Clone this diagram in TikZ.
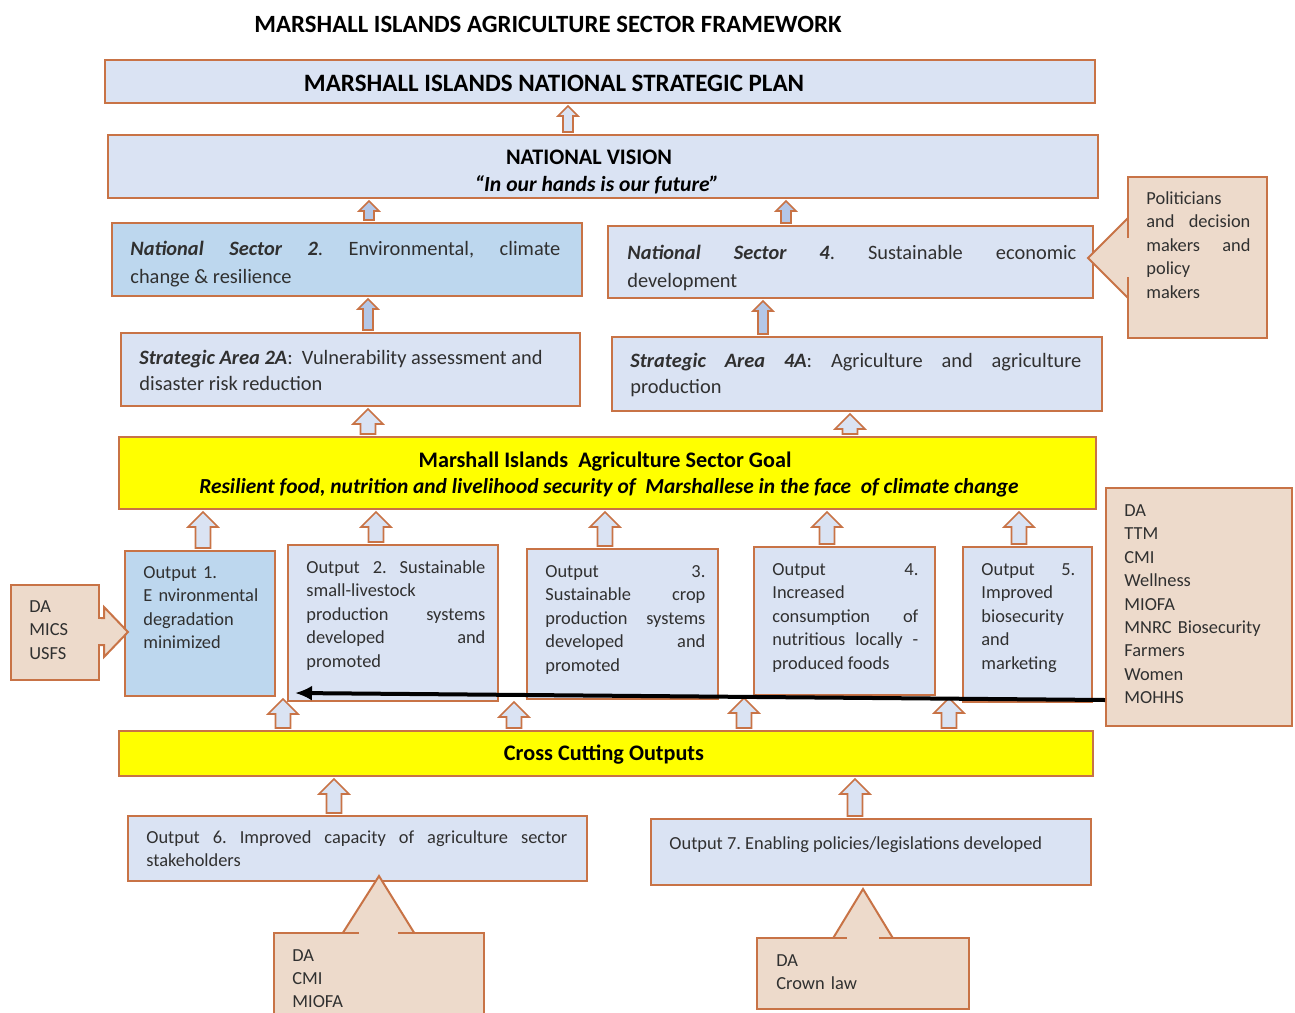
\documentclass[tikz,border=0pt]{standalone}
\usepackage{fontspec}
\setmainfont{Carlito}
\usetikzlibrary{arrows.meta,fit,calc}

\definecolor{edgeor}{HTML}{C87346}
\definecolor{paleblue}{HTML}{DAE3F3}
\definecolor{midblue}{HTML}{BDD7EE}
\definecolor{arrowblue}{HTML}{B4C7E7}
\definecolor{peach}{HTML}{EDDACB}
\definecolor{goalyellow}{HTML}{FFFF00}
\definecolor{inkgrey}{HTML}{303030}

\tolerance=10000
\hbadness=10000
\hyphenpenalty=10000
\frenchspacing

\newcommand{\smalltxt}{\fontsize{9.2}{11.7}\selectfont}

% hollow up arrow from one box to the box above it
\newcommand{\blockup}[6]{%
  \draw[arrowline, fill=#6] let \p1=(#1,0 |- #2.north), \p2=(#1,0 |- #3.south) in
    (\x1-#5,\y1+1pt) -- (\x1-#5,\y2-1pt-#4) -- (\x1-#4,\y2-1pt-#4) -- (\x1,\y2-1pt)
    -- (\x1+#4,\y2-1pt-#4) -- (\x1+#5,\y2-1pt-#4) -- (\x1+#5,\y1+1pt) -- cycle;}
\newcommand{\smallup}[4][arrowblue]{\blockup{#2}{#3}{#4}{5pt}{2.5pt}{#1}}
\newcommand{\bigup}[3]{\blockup{#1}{#2}{#3}{7.5pt}{3.75pt}{paleblue}}

\tikzset{
  frame/.style={draw=edgeor, line width=1pt, inner sep=0pt},
  palebox/.style={frame, fill=paleblue},
  bluebox/.style={frame, fill=midblue},
  goalbox/.style={frame, fill=goalyellow},
  peachbox/.style={frame, fill=peach},
  callshape/.style={draw=edgeor, line width=1pt, fill=peach},
  arrowline/.style={draw=edgeor, line width=0.8pt},
  para/.style={inner sep=0pt, anchor=base west, text=inkgrey, font=\smalltxt},
  justpara/.style={para, align=justify, text width=#1},
  listpara/.style={para, align=left, text width=#1},
  head/.style={inner sep=0pt, text=black, font=\bfseries\fontsize{11.1}{13}\selectfont},
  pointer/.style={line width=2pt, -{Latex[length=8.5pt,width=7.5pt]}},
}

\begin{document}
\begin{tikzpicture}[x=0.5pt,y=-0.5pt]
  \useasboundingbox (0,0) rectangle (1295,1012);

  \node[head, font=\bfseries\fontsize{12.4}{15}\selectfont] (title) at (548,24)
    {MARSHALL ISLANDS AGRICULTURE SECTOR FRAMEWORK};

  % national level
  \node[palebox, fit={(105,60) (1095,103)}] (nsp) {};
  \node[head, font=\bfseries\fontsize{12.5}{15}\selectfont] (nsptext) at (554,83)
    {MARSHALL ISLANDS NATIONAL STRATEGIC PLAN};
  \node[palebox, fit={(108,135) (1098,198)}] (nvis) {};
  \node[head] (nvistext) at (589,157) {NATIONAL VISION};
  \node[head, font=\bfseries\itshape\fontsize{10.8}{13}\selectfont] (nvisquote) at (597,184.5)
    {“In our hands is our future”};

  % sectors
  \node[bluebox, fit={(112,223) (582,296)}] (ns2) {};
  \node[justpara=215pt, font=\fontsize{10.2}{14}\selectfont] (ns2text) at (130,255.5)
    {\textbf{\textit{National Sector 2}}. Environmental, climate\linebreak change \& resilience};
  \node[palebox, fit={(608,226) (1093,298)}] (ns4) {};
  \node[justpara=224.5pt, font=\fontsize{10.2}{14}\selectfont] (ns4text) at (627,259.5)
    {\textbf{\textit{National Sector 4}}. Sustainable economic\linebreak development};

  % politicians callout
  \filldraw[callshape] (1088,258) -- (1130,216) -- (1130,300) -- cycle;
  \node[peachbox, fit={(1128,177) (1267,338)}] (polit) {};
  \fill[peach] (1126.5,238) rectangle (1129.5,277);
  \node[justpara=52pt] (polittext) at (1146,204.5)
    {Politicians\linebreak and decision\linebreak makers and\linebreak policy\linebreak makers};

  % strategic areas
  \node[palebox, fit={(121,333) (580,406)}] (sa2a) {};
  \node[justpara=211pt, font=\fontsize{10.2}{13}\selectfont] (sa2atext) at (139,364.5)
    {\textbf{\textit{Strategic Area 2A}}:\ \ Vulnerability assessment and\\disaster risk reduction};
  \node[palebox, fit={(612,337) (1102,411)}] (sa4a) {};
  \node[justpara=225.5pt, font=\fontsize{10.2}{13}\selectfont] (sa4atext) at (630,367.5)
    {\textbf{\textit{Strategic Area 4A}}: Agriculture and agriculture\linebreak production};

  % goal
  \node[goalbox, fit={(119,437) (1096,509)}] (goal) {};
  \node[head] (goaltitle) at (605,461.5) {Marshall Islands\ \ Agriculture Sector Goal};
  \node[head, font=\bfseries\itshape\fontsize{10.7}{13}\selectfont] (goalsub) at (609,487.5)
    {Resilient food, nutrition and livelihood security of\ \ Marshallese in the face\ \ of climate change};

  % outputs
  \node[bluebox, fit={(125,551) (275,696)}] (o1) {};
  \node[listpara=60pt] (o1text) at (143,578.5)
    {Output 1.\\E nvironmental\\degradation\\minimized};
  \node[palebox, fit={(288,545) (498,701)}] (o2) {};
  \node[justpara=89.5pt] (o2text) at (306,573.5)
    {Output 2. Sustainable\linebreak small-livestock\linebreak production systems\linebreak developed and\linebreak promoted};
  \node[palebox, fit={(527,549) (718,699)}] (o3) {};
  \node[justpara=80pt] (o3text) at (545,577.5)
    {Output 3.\linebreak Sustainable crop\linebreak production systems\linebreak developed and\linebreak promoted};
  \node[palebox, fit={(754,547) (935,695)}] (o4) {};
  \node[justpara=73pt] (o4text) at (772,575.5)
    {Output 4.\linebreak Increased\linebreak consumption of\linebreak nutritious locally -\linebreak produced foods};
  \node[palebox, fit={(963,547) (1092,702)}] (o5) {};
  \node[justpara=47pt] (o5text) at (981,575.5)
    {Output 5.\linebreak Improved\linebreak biosecurity\linebreak and\linebreak marketing};

  % left callout
  \filldraw[callshape] (97,618) -- (104,618) -- (104,607) -- (128,632) -- (104,657)
    -- (104,645) -- (97,645) -- cycle;
  \node[peachbox, fit={(11,585) (99,680)}] (lcall) {};
  \fill[peach] (97.5,619) rectangle (100.5,644);
  \node[listpara=35pt] (lcalltext) at (29,612.5) {DA\\MICS\\USFS};

  % right callout
  \node[peachbox, fit={(1106,488) (1292,726)}] (rcall) {};
  \node[listpara=80pt] (rcalltext) at (1124,516.5)
    {DA\\TTM\\CMI\\Wellness\\MIOFA\\MNRC Biosecurity\\Farmers\\Women\\MOHHS};

  % cross cutting
  \node[goalbox, fit={(119,731) (1093,776)}] (cc) {};
  \node[head] (cctext) at (604,754.5) {Cross Cutting Outputs};
  \node[palebox, fit={(128,816) (587,881)}] (o6) {};
  \node[justpara=210.5pt] (o6text) at (146,843.5)
    {Output 6. Improved capacity of agriculture sector\linebreak stakeholders};
  \node[palebox, fit={(651,819) (1091,885)}] (o7) {};
  \node[para] (o7text) at (669,849.5) {Output 7. Enabling policies/legislations developed};

  % bottom callouts
  \filldraw[callshape] (379,876) -- (341.5,935) -- (415.5,935) -- cycle;
  \node[peachbox, fit={(274,933) (484,1030)}] (bcall1) {};
  \fill[peach] (359,931.5) rectangle (398,934.5);
  \node[listpara=40pt, font=\fontsize{9.2}{11.5}\selectfont] (bcall1text) at (292,961.5)
    {DA\\CMI\\MIOFA};
  \filldraw[callshape] (863,889) -- (832,940) -- (894,940) -- cycle;
  \node[peachbox, fit={(757,938) (969,1009)}] (bcall2) {};
  \fill[peach] (847,936.5) rectangle (879,939.5);
  \node[listpara=60pt, font=\fontsize{9.2}{11.5}\selectfont] (bcall2text) at (776,966.5)
    {DA\\Crown law};

  % block arrows
  \smallup[paleblue]{568}{nvis}{nsp}
  \smallup{369}{ns2}{nvis}
  \smallup{786}{ns4}{nvis}
  \smallup{368}{sa2a}{ns2}
  \smallup{763}{sa4a}{ns4}
  \bigup{368}{goal}{sa2a}
  \bigup{850}{goal}{sa4a}
  \bigup{203}{o1}{goal}
  \bigup{376}{o2}{goal}
  \bigup{605}{o3}{goal}
  \bigup{827}{o4}{goal}
  \bigup{1019}{o5}{goal}
  \bigup{283}{cc}{o1}
  \bigup{514}{cc}{o3}
  \bigup{744}{cc}{o4}
  \bigup{949}{cc}{o4}
  \bigup{334}{o6}{cc}
  \bigup{855}{o7}{cc}

  \draw[pointer] (rcall.west |- 0,700) -- ([shift={(8,-9)}]o2.south west);
\end{tikzpicture}
\end{document}
